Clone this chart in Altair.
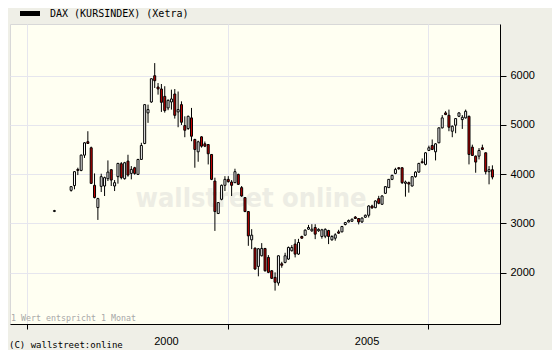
import altair as alt
import pandas as pd

# ---- data (monthly candles, DAX Kursindex) ----
months = ["1997-08"] + [f"{y}-{m:02d}" for y in range(1998, 2009) for m in range(1, 13)][:127]

opens = [3245,
    3672, 3768, 4097, 4077, 4387, 4660, 4537, 3774, 3322, 3753, 3760, 3909,
    4091, 3760, 3950, 4213, 3909, 4266, 4016, 4131, 3996, 4300, 4624, 5245,
    5467, 6000, 5771, 5731, 5581, 5346, 5467, 5629, 5265, 5413, 4988, 4927,
    5144, 4705, 4455, 4759, 4617, 4603, 4401, 3861, 3201, 3490, 3774, 3895,
    3841, 3828, 3996, 3727, 3525, 3241, 2667, 2498, 2127, 2343, 2492, 2310,
    2039, 1905, 1790, 2180, 2208, 2276, 2445, 2580, 2377, 2735, 2761, 2883,
    2849, 2917, 2850, 2735, 2740, 2856, 2667, 2700, 2829, 2829, 2978, 3030,
    3045, 3130, 3100, 3030, 3126, 3166, 3354, 3320, 3504, 3389, 3612, 3727,
    3895, 4016, 4131, 4131, 3814, 3828, 3760, 3950, 4043, 4253, 4199, 4483,
    4583, 4455, 4638, 4941, 5245, 5197, 4873, 4995, 5176, 5109, 5144, 5176,
    4550, 4367, 4367, 4537, 4435, 4051, 4091]
highs = [3275,
    3760, 4060, 4132, 4400, 4650, 4873, 4560, 4016, 3520, 4010, 3950, 4280,
    4100, 3881, 4230, 4246, 4250, 4395, 4165, 4150, 4310, 4638, 5420, 5413,
    5940, 6257, 5852, 5832, 5787, 5520, 5717, 5730, 5680, 5480, 5176, 5190,
    5346, 4720, 4680, 4770, 4664, 4610, 4410, 3929, 3430, 3790, 3960, 3960,
    3880, 4111, 4010, 3760, 3530, 3250, 2883, 2510, 2500, 2600, 2500, 2357,
    2050, 2006, 2350, 2220, 2404, 2530, 2560, 2681, 2687, 2750, 2880, 2970,
    2985, 2984, 2900, 2890, 2900, 2870, 2760, 2800, 2870, 2950, 3030, 3080,
    3100, 3150, 3110, 3120, 3180, 3370, 3380, 3470, 3560, 3570, 3760, 3900,
    3990, 4130, 4140, 4140, 3870, 3850, 3960, 4060, 4230, 4320, 4450, 4580,
    4705, 4630, 4950, 5200, 5280, 5312, 4990, 5140, 5260, 5200, 5312, 5190,
    4600, 4380, 4530, 4600, 4440, 4165, 4180]
lows = [3230,
    3646, 3693, 3982, 4060, 4330, 4614, 3800, 3510, 3071, 3638, 3557, 3861,
    3760, 3658, 3808, 3895, 3890, 3950, 3895, 3990, 3990, 4290, 4610, 5043,
    5450, 5751, 5616, 5265, 5251, 5300, 5312, 5130, 4954, 5000, 4751, 4900,
    4670, 4131, 4253, 4540, 4550, 4198, 3880, 2848, 3190, 3470, 3658, 3830,
    3557, 3820, 3780, 3540, 3230, 2545, 2478, 2060, 1926, 2330, 2020, 1990,
    1870, 1635, 1736, 2100, 2190, 2260, 2430, 2310, 2360, 2690, 2750, 2870,
    2830, 2681, 2830, 2690, 2700, 2580, 2650, 2650, 2790, 2820, 2960, 3020,
    3030, 3090, 2980, 3010, 3110, 3120, 3300, 3310, 3390, 3380, 3600, 3720,
    3880, 4000, 4090, 3800, 3544, 3625, 3750, 3930, 4030, 4220, 4180, 4470,
    4490, 4280, 4630, 4930, 5200, 4873, 4751, 4832, 5160, 4920, 5130, 4199,
    4370, 4030, 4300, 4490, 3996, 3794, 3895]
closes = [3260,
    3747, 4051, 4077, 4387, 4638, 4625, 3814, 3525, 3504, 3950, 3930, 4043,
    3881, 3828, 4219, 3929, 4233, 3983, 4097, 4016, 4300, 4583, 5413, 5312,
    5939, 5899, 5731, 5460, 5292, 5500, 5528, 5196, 5312, 5055, 4893, 5176,
    4771, 4502, 4658, 4569, 4569, 4415, 3895, 3241, 3423, 3774, 3895, 3848,
    3774, 4051, 3794, 3558, 3241, 2747, 2762, 2073, 2485, 2492, 2039, 2006,
    1885, 1804, 2343, 2150, 2343, 2512, 2512, 2377, 2613, 2700, 2863, 2917,
    2883, 2782, 2880, 2870, 2880, 2735, 2735, 2769, 2802, 2937, 3018, 3060,
    3085, 3100, 3030, 3110, 3166, 3354, 3314, 3456, 3409, 3558, 3747, 3895,
    3976, 4097, 4111, 3828, 3841, 3800, 3950, 4043, 4219, 4233, 4435, 4537,
    4502, 4617, 4941, 5144, 5211, 4954, 4974, 5130, 5245, 5156, 5278, 4401,
    4381, 4246, 4482, 4503, 4051, 4091, 3942]

y_ticks = [2000, 3000, 4000, 5000, 6000]
x_tick_months = [-13.2, 46.8, 106.8]          # grid / tick marks (months since Jan 1998)
year_labels = ["2000", "2005"]
year_label_months = [28.5, 88.5]

# ---- build table ----
idx = []
for s in months:
    yy, mm = s.split("-")
    idx.append((int(yy) - 1998) * 12 + int(mm) - 1)
df = pd.DataFrame({"month": months, "i": idx, "open": opens, "high": highs,
                   "low": lows, "close": closes})
df["dir"] = ["up" if c >= o else "down" for o, c in zip(opens, closes)]

xscale = alt.Scale(domain=[-16.79, 126.78], nice=False, zero=False)
yscale = alt.Scale(domain=[957, 7051], nice=False, zero=False)
GRID = "#e6e6ee"

xaxis = alt.Axis(values=x_tick_months, labels=False, title=None, tickSize=5,
                 tickColor="black", domainColor="black", grid=True,
                 gridColor=GRID, orient="bottom")
yaxis = alt.Axis(orient="right", values=y_ticks, title=None, tickSize=6,
                 tickColor="black", domainColor="black", labelPadding=4,
                 labelFont="Liberation Sans", labelFontSize=11, format="d",
                 labelColor="black", grid=True, gridColor=GRID)

base = alt.Chart(df)

wm = alt.Chart(pd.DataFrame({"t": ["wallstreet online"]})).mark_text(
    font="DejaVu Sans Condensed", fontSize=27, fontWeight="bold",
    color="#ededE4", align="center", baseline="alphabetic"
).encode(x=alt.value(241), y=alt.value(183), text="t:N")

wick = base.mark_rule(color="black", strokeWidth=1).encode(
    x=alt.X("i:Q", scale=xscale, axis=xaxis),
    y=alt.Y("low:Q", scale=yscale, axis=yaxis),
    y2="high:Q")

body = base.mark_bar(size=2, stroke="black", strokeWidth=1).encode(
    x=alt.X("i:Q", scale=xscale),
    y=alt.Y("open:Q", scale=yscale),
    y2="close:Q",
    color=alt.Color("dir:N", scale=alt.Scale(domain=["up", "down"],
                    range=["white", "#c80000"]), legend=None))

yl = alt.Chart(pd.DataFrame({"t": year_labels, "i": year_label_months})).mark_text(
    font="Liberation Sans", fontSize=11, color="black", baseline="middle"
).encode(x=alt.X("i:Q", scale=xscale), y=alt.value(318), text="t:N")

leg_box = alt.Chart(pd.DataFrame({"t": ["DAX (KURSINDEX) (Xetra)"]})).mark_rect(
    color="black").encode(x=alt.value(10), x2=alt.value(30), y=alt.value(-13), y2=alt.value(-8))
leg_txt = alt.Chart(pd.DataFrame({"t": ["DAX (KURSINDEX) (Xetra)"]})).mark_text(
    font="DejaVu Sans Mono", fontSize=10, color="black", align="left", baseline="middle"
).encode(x=alt.value(40), y=alt.value(-10), text="t:N")

note = alt.Chart(pd.DataFrame({"t": ["1 Wert entspricht 1 Monat"]})).mark_text(
    font="DejaVu Sans Mono", fontSize=8.3, color="#a8a8a8", align="left", baseline="middle"
).encode(x=alt.value(1), y=alt.value(294.5), text="t:N")

copy = alt.Chart(pd.DataFrame({"t": ["(C) wallstreet:online"]})).mark_text(
    font="DejaVu Sans Mono", fontSize=9, color="black", align="left", baseline="middle"
).encode(x=alt.value(-1), y=alt.value(321), text="t:N")

chart = alt.layer(wm, wick, body, yl, leg_box, leg_txt, note, copy).properties(
    width=490, height=300,
    padding={"left": 2, "top": 16, "right": 52, "bottom": 26},
    autosize=alt.AutoSizeParams(type="none"),
    background="#efefe7",
).configure_view(fill="#fffff2", stroke="#d8d8d8", strokeWidth=1)

chart.save("out.html", embed_options={"renderer": "svg", "actions": False})
